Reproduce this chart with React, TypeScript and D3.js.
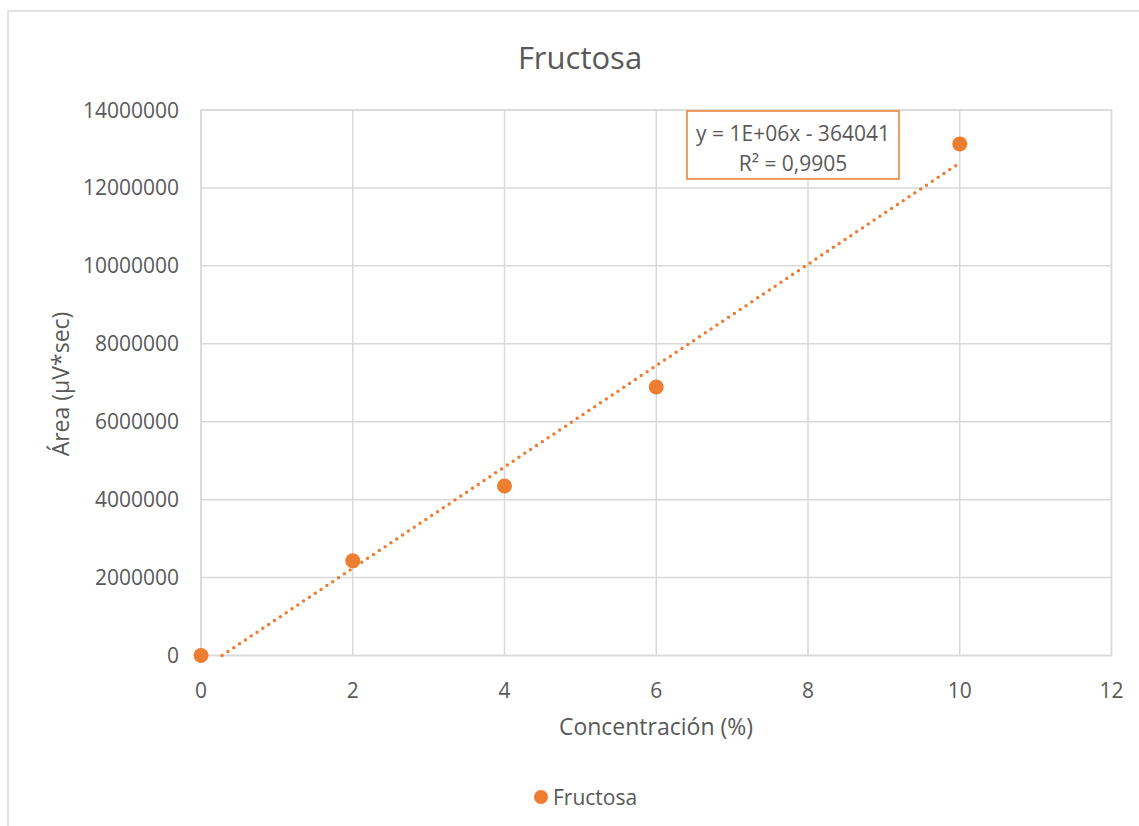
import React from "react";
import * as d3 from "d3";

// Calibration data: concentration (%) vs. peak area
const concentrations = [0, 2, 4, 6, 10];
const areas = [0, 2430000, 4350000, 6890000, 13130000];
const seriesName = "Fructosa";

const xTicks = [0, 2, 4, 6, 8, 10, 12];
const yTicks = [0, 2000000, 4000000, 6000000, 8000000, 10000000, 12000000, 14000000];

const equationText = "y = 1E+06x - 364041";
const r2Text = "R² = 0,9905";

const W = 1139;
const H = 826;
const ORANGE = "#ED7D31";
const TEXT = "#595959";
const GRID = "#D9D9D9";
const FONT = "'Open Sans', 'Liberation Sans', sans-serif";

export default function App() {
  const left = 201;
  const right = 1111.5;
  const top = 110;
  const bottom = 655.5;

  const x = d3.scaleLinear().domain([0, 12]).range([left, right]);
  const y = d3.scaleLinear().domain([0, 14000000]).range([bottom, top]);

  // Least-squares linear trendline
  const mx = d3.mean(concentrations)!;
  const my = d3.mean(areas)!;
  let sxy = 0;
  let sxx = 0;
  concentrations.forEach((c, i) => {
    sxy += (c - mx) * (areas[i] - my);
    sxx += (c - mx) * (c - mx);
  });
  const slope = sxy / sxx;
  const intercept = my - slope * mx;
  const x0 = Math.max(0, -intercept / slope);
  const x1 = d3.max(concentrations)!;
  const trend = d3.line<number>()
    .x((d) => x(d))
    .y((d) => y(slope * d + intercept));

  return (
    <svg
      width={W}
      height={H}
      style={{ position: "absolute", left: 0, top: 0, background: "#fff" }}
      fontFamily={FONT}
    >
      <rect x={0} y={0} width={W} height={H} fill="#fff" />
      {/* chart area frame */}
      <rect x={8} y={11} width={W + 20} height={H + 20} fill="none" stroke={GRID} strokeWidth={1.5} />

      <text x={580} y={69} textAnchor="middle" fontSize={31} fill={TEXT}>
        {seriesName}
      </text>

      {/* gridlines */}
      {yTicks.map((t) => (
        <line key={"gy" + t} x1={left} x2={right} y1={y(t)} y2={y(t)} stroke={GRID} strokeWidth={1.5} />
      ))}
      {xTicks.map((t) => (
        <line key={"gx" + t} x1={x(t)} x2={x(t)} y1={top} y2={bottom} stroke={GRID} strokeWidth={1.5} />
      ))}
      <rect x={left} y={top} width={right - left} height={bottom - top} fill="none" stroke={GRID} strokeWidth={1.5} />

      {/* tick labels */}
      {yTicks.map((t) => (
        <text key={"ty" + t} x={179} y={y(t) + 7.5} textAnchor="end" fontSize={21} fill={TEXT}>
          {t}
        </text>
      ))}
      {xTicks.map((t) => (
        <text key={"tx" + t} x={x(t)} y={698} textAnchor="middle" fontSize={21} fill={TEXT}>
          {t}
        </text>
      ))}

      {/* axis titles */}
      <text x={656} y={735} textAnchor="middle" fontSize={23} fill={TEXT}>
        Concentración (%)
      </text>
      <text
        transform={`translate(69, ${384}) rotate(-90)`}
        textAnchor="middle"
        fontSize={23}
        fill={TEXT}
      >
        Área (µV*sec)
      </text>

      {/* trendline */}
      <path
        d={trend([x0, x1]) ?? ""}
        fill="none"
        stroke={ORANGE}
        strokeWidth={3.5}
        strokeLinecap="round"
        strokeDasharray="0 7"
      />

      {/* data points */}
      {concentrations.map((c, i) => (
        <circle key={"p" + i} cx={x(c)} cy={y(areas[i])} r={7.5} fill={ORANGE} />
      ))}

      {/* trendline equation */}
      <rect x={687} y={111} width={212} height={68} fill="#fff" stroke={ORANGE} strokeWidth={1.5} />
      <text x={793} y={141} textAnchor="middle" fontSize={21} fill={TEXT}>
        {equationText}
      </text>
      <text x={793} y={171} textAnchor="middle" fontSize={21} fill={TEXT}>
        {r2Text}
      </text>

      {/* legend */}
      <circle cx={541} cy={797} r={7} fill={ORANGE} />
      <text x={553} y={805} fontSize={21} fill={TEXT}>
        {seriesName}
      </text>
    </svg>
  );
}
